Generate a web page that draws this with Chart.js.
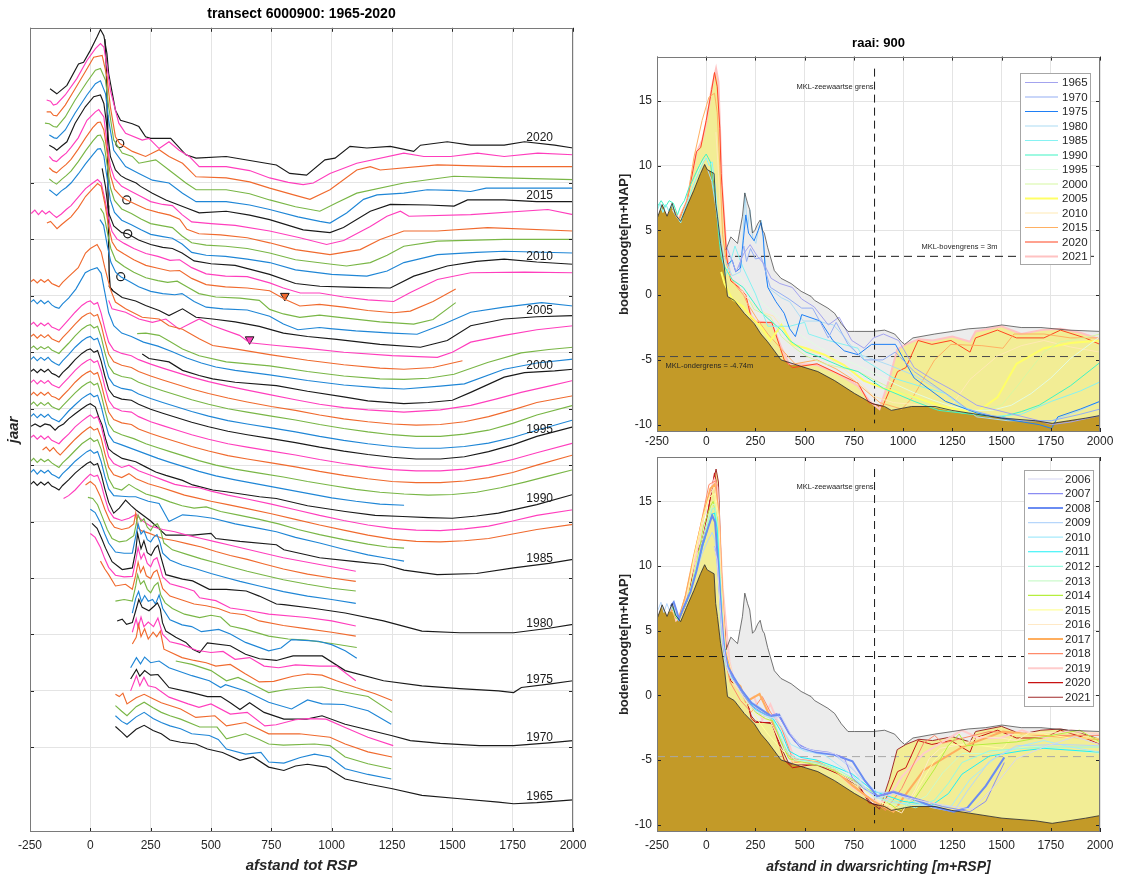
<!DOCTYPE html>
<html><head><meta charset="utf-8">
<script src="https://cdn.jsdelivr.net/npm/chart.js@4.4.0/dist/chart.umd.min.js"></script>
<style>
html,body{margin:0;padding:0;background:#fff;width:1129px;height:879px;overflow:hidden}
canvas{position:absolute}
</style></head><body>
<canvas id="cl" width="590" height="879" style="left:0;top:0"></canvas>
<canvas id="ct" width="529" height="420" style="left:600px;top:30px"></canvas>
<canvas id="cb" width="529" height="439" style="left:600px;top:440px"></canvas>
<script>
// ---------- DATA: bed profiles, pairs of [distance to RSP (m), height (m+NAP)] ----------
const p1965 = [104,3.7, 130,2.7, 152,1.8, 190,3.2, 223,3.9, 260,3.0, 294,2.4, 330,1.3, 374,0.9, 437,0.6, 485,-0.3, 548,-0.9, 620,-2.3, 675,-1.7, 739,-3.5, 802,-4.1, 850,-3.3, 900,-3.0, 977,-3.5, 1056,-5.6, 1150,-6.5, 1247,-7.3, 1374,-8.5, 1532,-9.1, 1691,-9.7, 1754,-10.0, 1850,-9.8, 2000,-9.3];
const p1966 = [104,3.6, 130,2.6, 152,2.1, 190,3.4, 223,4.2, 260,3.1, 294,2.4, 330,1.8, 374,1.3, 420,0.4, 493,0.1, 530,-0.6, 564,-2.3, 643,-3.2, 707,-2.9, 739,-4.6, 802,-4.8, 870,-3.8, 929,-3.2, 993,-3.7, 1056,-5.8, 1150,-6.8, 1247,-7.6];
const p1967 = [104,3.4, 130,2.4, 152,1.6, 190,3.2, 223,4.0, 260,3.0, 294,2.2, 330,1.6, 374,1.0, 453,-0.4, 525,-0.4, 564,-2.5, 643,-1.6, 700,-2.6, 739,-3.4, 800,-3.6, 929,-3.4, 993,-3.7, 1056,-5.7, 1150,-6.9, 1247,-7.8];
const p1968 = [104,3.4, 120,3.0, 135,3.6, 152,1.7, 190,2.8, 223,3.4, 260,2.6, 294,1.9, 374,0.8, 437,-0.7, 516,-0.4, 564,-2.2, 643,-1.6, 739,-3.6, 866,-3.6, 993,-4.2, 1056,-5.4, 1150,-6.8, 1250,-7.7];
const p1969 = [167,2.0, 191,4.7, 205,2.9, 222,4.4, 240,2.9, 270,2.6, 326,0.9, 405,-0.3, 450,-0.9, 500,-0.3, 580,-2.1, 650,-1.8, 723,-4.2, 770,-4.0, 850,-3.1, 900,-2.9, 977,-3.0, 1056,-4.5, 1150,-6.2, 1255,-7.7];
const p1970 = [167,2.1, 191,3.8, 205,2.6, 225,3.6, 250,2.8, 280,2.9, 326,0.6, 421,-0.3, 485,-1.0, 540,-1.0, 580,-2.1, 620,-3.3, 660,-2.1, 720,-3.8, 802,-5.0, 897,-5.0, 960,-4.4, 1056,-5.9, 1247,-7.9, 1326,-8.8, 1450,-9.3, 1612,-9.7, 1754,-9.7, 1900,-9.2, 2000,-8.8];
const p1971 = [167,2.1, 191,3.9, 208,2.8, 225,4.0, 250,3.0, 285,3.3, 326,2.1, 421,0.7, 493,-0.2, 540,-1.4, 560,-0.9, 643,-2.0, 739,-4.0, 834,-5.2, 900,-3.6, 961,-4.3, 1050,-4.4, 1151,-5.5, 1247,-7.9];
const p1972 = [354,1.3, 421,0.7, 500,-0.4, 564,-2.2, 612,-1.6, 680,-3.0, 739,-4.3, 818,-3.7, 897,-3.4, 960,-3.3, 1050,-4.2, 1151,-5.0, 1250,-7.8];
const p1973 = [174,2.3, 190,3.5, 200,5.8, 210,3.6, 225,5.0, 240,3.2, 260,4.4, 275,3.6, 290,4.6, 305,1.4, 330,0.9, 380,-0.1, 430,-0.6, 480,-1.0, 520,-1.6, 580,-1.3, 640,-2.9, 700,-4.4, 760,-4.3, 840,-3.4, 900,-3.0, 960,-3.2, 1020,-4.2, 1100,-5.4, 1180,-6.5, 1250,-7.7];
const p1974 = [174,2.4, 190,4.8, 198,3.2, 210,5.1, 222,3.4, 240,4.2, 262,3.4, 280,4.9, 300,2.0, 330,0.7, 380,0.2, 440,-0.8, 500,-1.2, 550,-1.0, 600,-2.4, 660,-2.1, 720,-3.6, 780,-3.9, 850,-3.4, 950,-3.6, 1020,-3.6, 1100,-6.2];
const p1975 = [111,2.4, 132,2.7, 150,1.8, 174,2.1, 188,4.2, 201,6.2, 215,4.8, 243,4.2, 264,5.0, 278,5.6, 290,4.5, 299,2.1, 313,0.6, 354,-0.5, 396,-1.4, 424,-2.6, 453,-3.2, 485,-1.5, 580,-2.0, 643,-3.5, 701,-4.3, 771,-4.6, 840,-3.8, 961,-3.8, 1056,-6.4, 1215,-8.2, 1374,-9.1, 1530,-9.6, 1691,-10.0, 1754,-10.3, 1786,-9.4, 1900,-8.8, 2000,-8.2];
const p1976 = [174,1.8, 188,4.4, 200,5.6, 212,3.8, 225,4.9, 240,3.9, 258,4.2, 270,3.4, 285,5.0, 300,2.6, 330,0.6, 380,-0.3, 420,-0.6, 460,-1.5, 532,-1.1, 580,-1.9, 643,-3.4, 739,-4.9, 790,-4.4, 834,-2.9, 945,-3.2, 1000,-3.8, 1056,-4.9, 1104,-6.2];
const p1977 = [104,1.9, 140,2.2, 174,1.9, 188,4.6, 196,6.6, 208,4.9, 222,5.5, 236,4.0, 250,3.4, 265,4.6, 280,5.2, 292,3.0, 310,1.6, 340,0.6, 390,-0.4, 453,-1.0, 500,-0.6, 540,-0.9, 580,-2.5, 643,-3.1, 739,-4.3, 820,-4.8, 897,-5.0, 1000,-5.6, 1104,-6.3];
const p1978 = [42,7.0, 60,5.6, 76,4.6, 104,2.6, 146,2.9, 174,2.0, 188,4.5, 198,6.8, 208,5.0, 220,6.0, 232,4.4, 250,3.9, 262,5.0, 276,5.4, 288,3.8, 300,2.1, 330,0.8, 380,0.1, 430,-0.6, 480,-0.9, 530,-1.4, 580,-2.2, 640,-2.5, 700,-3.6, 800,-4.4, 900,-5.0, 1000,-5.6, 1100,-6.3];
const p1979 = [0,9.9, 20,9.2, 42,7.4, 60,5.4, 76,3.9, 104,2.5, 140,2.2, 174,2.3, 188,5.1, 198,7.4, 210,5.4, 222,6.4, 236,4.6, 250,4.0, 262,5.2, 276,5.6, 288,4.0, 300,2.2, 330,1.0, 380,0.4, 430,-0.3, 453,-1.5, 520,-2.0, 580,-3.3, 660,-3.8, 739,-4.4, 897,-5.0, 1000,-5.6, 1100,-6.5];
const p1980 = [7,9.7, 28,8.8, 49,6.8, 63,5.3, 90,2.9, 132,1.5, 174,1.8, 188,4.8, 196,7.9, 210,5.2, 222,6.6, 236,4.5, 252,4.0, 268,5.3, 280,5.8, 292,3.8, 313,0.6, 382,-0.2, 424,-0.5, 493,-2.0, 563,-2.0, 646,-2.3, 700,-3.2, 771,-4.6, 802,-4.7, 930,-5.4, 1056,-6.2, 1215,-7.6, 1374,-9.4, 1532,-9.7, 1754,-9.7, 1900,-8.9, 2000,-8.2];
const p1981 = [0,10.2, 20,9.6, 42,7.8, 60,5.8, 76,4.2, 104,2.6, 140,2.4, 174,2.4, 188,5.4, 198,7.6, 210,5.8, 222,6.4, 236,4.8, 250,4.4, 262,5.2, 276,5.7, 288,4.4, 300,2.4, 330,1.2, 380,0.3, 440,-0.4, 500,-1.2, 560,-1.9, 620,-2.6, 700,-3.4, 800,-4.4, 900,-5.2, 1000,-5.8, 1100,-6.5];
const p1982 = [-10,10.3, 10,10.1, 30,9.0, 50,6.8, 70,4.6, 90,3.0, 120,2.4, 150,2.6, 180,3.5, 198,7.2, 210,6.0, 222,6.5, 236,5.0, 250,4.4, 262,5.3, 278,5.6, 290,4.6, 305,2.2, 340,1.0, 400,0.2, 460,-0.6, 520,-1.3, 580,-2.0, 650,-2.8, 720,-3.5, 800,-4.3, 900,-5.1, 1000,-5.8, 1100,-6.3];
const p1983 = [-20,10.5, 0,11.1, 20,10.4, 40,8.6, 60,6.2, 80,4.2, 100,3.0, 130,2.6, 160,2.9, 180,3.6, 188,5.5, 196,3.0, 210,2.4, 240,2.0, 270,1.5, 300,1.0, 350,0.6, 400,0.1, 460,-0.5, 520,-1.3, 580,-2.0, 650,-2.7, 720,-3.5, 800,-4.4, 900,-5.3, 1000,-6.0, 1100,-6.6];
const p1984 = [-111,6.1, -90,6.6, -63,7.6, -40,8.7, -20,9.6, 0,10.4, 15,10.0, 30,10.2, 45,8.6, 60,6.2, 76,4.0, 97,2.7, 130,2.2, 160,2.6, 190,3.3, 215,2.2, 250,1.2, 300,0.6, 350,0.2, 400,-0.4, 460,-1.0, 520,-1.6, 580,-2.2, 650,-2.9, 720,-3.6, 800,-4.4, 900,-5.2, 1000,-6.0, 1100,-6.8];
const p1985 = [-250,6.5, -235,7.1, -220,6.4, -205,7.0, -190,6.5, -175,7.0, -160,6.3, -145,6.0, -130,5.6, -115,6.4, -90,7.4, -63,8.6, -35,9.6, -14,10.3, 0,10.6, 15,10.0, 30,10.3, 45,8.4, 60,5.8, 76,3.4, 97,1.5, 120,2.4, 146,3.8, 170,2.8, 188,2.1, 250,0.1, 313,-2.4, 424,-2.4, 500,-2.1, 520,-3.0, 620,-3.5, 771,-4.1, 802,-5.0, 950,-6.4, 1100,-7.1, 1215,-7.6, 1300,-8.6, 1437,-9.4, 1600,-9.2, 1754,-8.2, 1900,-7.4, 2000,-6.7];
const p1986 = [-250,6.6, -235,7.2, -220,6.4, -205,7.1, -190,6.6, -175,7.1, -160,6.4, -145,6.1, -130,5.7, -115,6.5, -90,7.5, -63,8.7, -35,9.7, -14,10.4, 0,10.7, 15,10.1, 30,10.4, 45,8.6, 60,6.0, 76,3.8, 97,2.6, 130,2.5, 160,2.4, 188,2.4, 240,1.6, 285,1.2, 326,-2.0, 382,-0.8, 440,-1.0, 507,-1.4, 600,-2.4, 700,-3.2, 771,-3.8, 850,-4.8, 950,-5.8, 1050,-6.9, 1150,-7.9, 1230,-8.5, 1300,-9.0];
const p1987 = [-250,6.6, -235,7.2, -220,6.5, -205,7.1, -190,6.6, -175,7.0, -160,6.4, -145,6.0, -130,5.6, -115,6.4, -90,7.4, -63,8.6, -35,9.8, -14,10.4, 0,10.8, 15,10.2, 30,10.5, 45,8.8, 60,6.2, 76,3.6, 97,2.0, 130,1.6, 160,2.6, 190,1.8, 230,0.9, 280,0.3, 330,-0.5, 380,-1.2, 430,-1.6, 480,-1.4, 540,-2.2, 620,-2.9, 700,-3.6, 780,-4.4, 860,-5.4, 950,-6.3, 1050,-7.2, 1150,-8.0, 1230,-8.5, 1300,-8.7];
const p1988 = [-198,6.7, -183,7.2, -168,6.5, -153,7.1, -138,6.3, -125,5.8, -110,6.5, -90,7.4, -63,8.6, -35,9.7, -14,10.4, 0,10.8, 15,10.2, 30,10.5, 45,8.8, 60,6.1, 76,3.6, 97,2.3, 130,1.8, 160,2.5, 190,1.6, 240,0.7, 290,0.1, 340,-0.6, 390,-1.3, 440,-1.8, 500,-2.4, 570,-3.0, 650,-3.7, 750,-4.6, 850,-5.6, 950,-6.6, 1050,-7.5, 1150,-8.4, 1250,-9.1, 1350,-9.5, 1450,-9.6, 1550,-9.4, 1650,-9.0, 1750,-8.2, 1850,-7.4, 2000,-6.5];
const p1989 = [-250,6.8, -235,7.3, -220,6.6, -205,7.2, -190,6.6, -175,7.1, -160,6.4, -145,6.1, -130,5.8, -115,6.5, -90,7.5, -63,8.8, -35,9.8, -14,10.5, 0,10.9, 15,10.3, 30,10.6, 45,8.9, 60,6.2, 76,3.5, 97,2.3, 130,1.6, 160,2.0, 200,1.0, 250,0.2, 300,-0.6, 350,-1.4, 400,-1.8, 450,-2.0, 500,-2.6, 570,-3.3, 650,-4.0, 750,-4.9, 850,-5.9, 950,-6.9, 1050,-7.8, 1150,-8.6, 1250,-9.2, 1350,-9.5, 1450,-9.6, 1550,-9.3, 1650,-8.8, 1750,-7.9, 1850,-6.9, 2000,-5.9];
const p1990 = [-250,6.8, -229,7.3, -208,6.8, -188,7.3, -167,7.1, -146,6.2, -132,6.8, -111,7.3, -90,8.2, -63,9.1, -35,10.0, -14,10.6, 0,10.9, 21,10.3, 35,8.5, 49,7.1, 63,4.7, 76,2.9, 97,2.1, 132,1.2, 188,0.6, 229,-0.3, 271,-1.2, 313,-1.8, 382,-2.7, 424,-3.5, 507,-4.4, 563,-4.7, 701,-5.6, 771,-5.9, 900,-7.2, 1056,-8.2, 1180,-8.9, 1294,-9.1, 1400,-9.3, 1500,-9.4, 1600,-9.0, 1691,-8.5, 1850,-7.0, 2000,-5.2];
const p1991 = [-250,6.5, -235,7.1, -220,6.4, -205,7.0, -190,6.5, -175,7.0, -160,6.3, -145,6.0, -130,5.7, -115,6.4, -90,7.6, -63,8.7, -35,9.8, -14,10.4, 0,10.7, 15,10.1, 30,10.4, 45,8.4, 60,5.8, 76,3.4, 97,2.1, 130,1.6, 180,0.8, 230,0.0, 280,-0.8, 330,-1.5, 390,-2.3, 450,-3.1, 520,-3.9, 600,-4.6, 700,-5.4, 800,-6.2, 900,-7.0, 1000,-7.8, 1100,-8.4, 1200,-8.9, 1300,-9.1];
const p1992 = [-250,6.6, -235,7.2, -220,6.5, -205,7.1, -190,6.6, -175,7.1, -160,6.4, -145,6.1, -130,5.8, -115,6.5, -90,7.6, -63,8.8, -35,9.9, -14,10.5, 0,10.8, 15,10.2, 30,10.5, 45,8.5, 60,5.8, 76,3.3, 97,2.0, 130,1.4, 180,0.7, 230,-0.2, 280,-0.9, 330,-1.6, 390,-2.4, 450,-3.2, 520,-4.0, 600,-4.7, 700,-5.4, 800,-6.1, 900,-6.9, 1000,-7.6, 1100,-8.3, 1200,-8.8, 1300,-9.1, 1400,-9.3, 1500,-9.2, 1600,-8.8, 1700,-8.0, 1800,-7.0, 1900,-5.9, 2000,-4.8];
const p1993 = [-250,6.3, -235,6.9, -220,6.3, -205,6.9, -190,6.4, -175,6.9, -160,6.2, -145,6.0, -130,5.6, -115,6.3, -90,7.4, -63,8.7, -35,9.8, -14,10.4, 0,10.7, 15,10.1, 30,10.4, 45,8.4, 60,5.8, 76,3.4, 97,2.1, 130,1.5, 170,1.2, 200,0.4, 250,-0.4, 300,-1.1, 360,-1.9, 420,-2.7, 490,-3.5, 570,-4.3, 650,-4.9, 750,-5.6, 850,-6.3, 950,-7.1, 1050,-7.8, 1150,-8.4, 1250,-8.9, 1350,-9.1, 1450,-9.1, 1550,-8.8, 1650,-8.2, 1750,-7.3, 1850,-6.0, 2000,-4.2];
const p1994 = [-250,6.5, -235,7.1, -220,6.4, -205,7.0, -190,6.5, -175,7.0, -160,6.3, -145,6.0, -130,5.7, -115,6.4, -90,7.5, -63,8.8, -35,9.9, -14,10.5, 0,10.8, 15,10.2, 30,10.5, 45,8.6, 60,5.9, 76,3.5, 97,2.2, 130,1.6, 170,1.4, 200,0.6, 250,-0.3, 300,-1.0, 360,-1.8, 420,-2.6, 490,-3.4, 570,-4.2, 650,-4.8, 750,-5.5, 850,-6.2, 950,-7.0, 1050,-7.7, 1150,-8.3, 1250,-8.8, 1350,-9.0, 1450,-9.0, 1550,-8.7, 1650,-8.0, 1750,-7.0, 1850,-5.8, 2000,-4.1];
const p1995 = [-250,6.5, -235,7.0, -220,6.4, -205,7.0, -190,6.5, -175,7.0, -160,6.3, -145,6.0, -130,5.6, -115,6.4, -90,7.4, -63,8.7, -35,9.8, -14,10.4, 0,10.6, 15,10.0, 30,10.3, 45,8.4, 60,5.8, 76,3.4, 97,2.2, 130,1.7, 170,1.5, 200,0.8, 250,-0.1, 300,-0.8, 360,-1.6, 420,-2.4, 490,-3.2, 570,-4.0, 650,-4.6, 750,-5.3, 850,-6.0, 950,-6.8, 1050,-7.5, 1150,-8.1, 1250,-8.6, 1350,-8.9, 1450,-8.9, 1550,-8.5, 1650,-7.6, 1750,-6.4, 1850,-4.9, 2000,-3.2];
const p1996 = [-250,6.6, -235,7.2, -220,6.5, -205,7.1, -190,6.6, -175,7.1, -160,6.4, -145,6.0, -130,5.7, -115,6.5, -90,7.6, -63,8.9, -35,10.0, -14,10.6, 0,10.8, 15,10.2, 30,10.5, 45,8.6, 60,5.9, 76,3.5, 97,2.2, 130,1.6, 170,1.3, 200,0.6, 250,-0.2, 300,-0.9, 360,-1.7, 420,-2.5, 490,-3.3, 570,-4.1, 650,-4.7, 750,-5.4, 850,-6.1, 950,-6.9, 1050,-7.6, 1150,-8.2, 1250,-8.7, 1350,-9.0, 1450,-9.0, 1550,-8.7, 1650,-8.1, 1750,-7.1, 1850,-5.8, 2000,-4.0];
const p1997 = [-250,6.6, -235,7.1, -220,6.5, -205,7.0, -190,6.6, -175,7.0, -160,6.4, -145,6.1, -130,5.8, -115,6.5, -90,7.6, -63,8.9, -35,10.1, -14,10.7, 0,10.9, 15,10.3, 30,10.6, 45,8.7, 60,6.0, 76,3.6, 97,2.3, 130,1.7, 170,1.4, 200,0.7, 250,-0.1, 300,-0.8, 360,-1.6, 420,-2.4, 490,-3.2, 570,-4.0, 650,-4.6, 750,-5.3, 850,-6.0, 950,-6.8, 1050,-7.5, 1150,-8.1, 1250,-8.6, 1350,-8.9, 1450,-8.9, 1550,-8.5, 1650,-7.8, 1750,-6.6, 1850,-5.1, 2000,-3.4];
const p1998 = [-250,6.7, -235,7.2, -220,6.5, -205,7.1, -190,6.6, -175,7.1, -160,6.4, -145,6.1, -130,5.8, -115,6.6, -90,7.7, -63,9.0, -35,10.2, -14,10.8, 0,11.0, 15,10.4, 30,10.7, 45,8.8, 60,6.1, 76,3.7, 97,2.3, 130,1.7, 170,1.3, 200,0.6, 250,-0.2, 300,-0.9, 360,-1.7, 420,-2.5, 490,-3.3, 570,-4.1, 650,-4.8, 750,-5.6, 850,-6.3, 950,-7.1, 1050,-7.8, 1150,-8.3, 1250,-8.7, 1350,-8.9, 1450,-8.8, 1550,-8.3, 1650,-7.4, 1750,-6.2, 1850,-4.9, 2000,-3.7];
const p1999 = [-250,6.8, -235,7.3, -220,6.6, -205,7.2, -190,6.7, -175,7.2, -160,6.5, -145,6.2, -130,5.9, -115,6.6, -90,7.8, -63,9.1, -35,10.3, -14,10.9, 0,11.1, 15,10.5, 30,10.8, 45,8.9, 60,6.2, 76,3.8, 97,2.4, 130,1.8, 170,1.4, 200,0.7, 250,-0.1, 300,-0.8, 360,-1.6, 420,-2.4, 490,-3.2, 570,-4.0, 650,-4.7, 743,-5.5, 850,-6.4, 950,-7.2, 1050,-7.8, 1150,-8.2, 1299,-8.6, 1450,-8.2, 1576,-7.4, 1680,-6.3, 1785,-5.1, 1900,-4.0, 2000,-3.0];
const p2000 = [215,-0.3, 243,-1.1, 326,-1.7, 382,-3.2, 451,-4.1, 507,-4.7, 600,-5.3, 771,-5.9, 900,-6.9, 1050,-7.9, 1150,-8.6, 1299,-9.1, 1400,-8.9, 1500,-8.5, 1576,-7.1, 1715,-4.4, 1799,-3.6, 1924,-3.3, 2000,-3.0];
const p2001 = [-250,6.8, -235,7.3, -220,6.6, -205,7.2, -190,6.6, -175,7.1, -160,6.4, -145,6.0, -130,5.8, -115,6.6, -90,7.6, -60,9.2, -21,12.1, 0,12.6, 28,13.0, 45,12.0, 60,8.6, 76,5.0, 97,2.7, 130,1.4, 170,0.8, 220,-0.2, 280,-0.9, 340,-1.9, 400,-3.0, 460,-3.9, 520,-4.6, 600,-5.2, 743,-6.0, 900,-7.0, 1050,-7.8, 1200,-8.3, 1299,-8.5, 1450,-8.0, 1550,-7.6, 1715,-5.0, 1850,-3.9, 2000,-3.2];
const p2002 = [194,-0.7, 230,-0.6, 285,-1.0, 330,-2.1, 382,-3.4, 451,-4.6, 563,-5.7, 743,-6.4, 900,-7.4, 1050,-8.2, 1200,-8.7, 1299,-8.8, 1400,-8.6, 1507,-7.9, 1646,-5.8, 1785,-4.1, 1900,-3.5, 2000,-3.1];
const p2003 = [-250,6.4, -235,6.9, -220,6.3, -205,6.9, -190,6.4, -175,6.9, -160,6.2, -145,5.9, -130,5.6, -115,6.4, -90,7.4, -50,9.0, -20,11.6, 0,12.4, 28,13.1, 45,11.8, 60,9.0, 83,5.2, 104,2.9, 146,1.7, 215,0.2, 285,-0.1, 326,-1.3, 382,-1.9, 451,-3.6, 507,-4.8, 600,-5.4, 743,-6.4, 900,-7.4, 1050,-8.2, 1200,-8.8, 1299,-9.0, 1420,-8.7, 1542,-7.5];
const p2004 = [76,1.2, 90,-0.3, 146,-0.9, 201,-2.1, 257,-2.7, 313,-2.1, 368,-3.9, 451,-2.1, 507,-3.3, 618,-5.0, 660,-6.3, 771,-6.8, 900,-7.3, 1050,-8.0, 1250,-8.6, 1438,-8.9, 1500,-8.0, 1576,-6.2, 1715,-5.0, 1850,-4.0, 2000,-3.3];
const p2005 = [76,1.8, 93,0.9, 132,-0.3, 188,-0.9, 229,-1.7, 285,-2.6, 326,-3.5, 382,-2.3, 438,-3.8, 507,-4.1, 600,-4.6, 700,-5.4, 800,-6.6, 900,-7.2, 1021,-7.7, 1200,-8.6, 1368,-9.1, 1479,-7.9, 1576,-5.3, 1715,-4.1, 1850,-3.7, 2000,-3.5];
const p2006 = [40,11.5, 55,10.5, 70,7.0, 85,4.0, 105,2.2, 126,1.4, 160,0.6, 200,-0.4, 250,-1.2, 300,-1.6, 350,-1.8, 380,-1.6, 430,-3.0, 480,-4.0, 550,-4.3, 650,-4.5, 743,-5.6, 800,-7.0, 860,-8.0, 950,-7.6, 993,-7.8, 1100,-8.2, 1250,-8.6, 1354,-8.8, 1465,-7.0, 1576,-4.9, 1715,-4.0, 1870,-3.2, 2000,-3.8];
const p2007 = [42,11.5, 55,10.6, 70,7.4, 85,4.4, 105,2.3, 140,1.2, 180,0.2, 230,-0.8, 280,-1.3, 320,-1.6, 360,-1.4, 400,-2.4, 450,-3.6, 520,-4.2, 620,-4.4, 700,-4.8, 743,-6.4, 800,-7.2, 868,-7.8, 950,-7.4, 1050,-7.9, 1200,-8.6, 1340,-9.0, 1420,-8.2, 1514,-5.2];
const p2008 = [-180,6.9, -165,7.2, -150,6.5, -138,5.9, -120,6.6, -100,7.3, -80,8.0, -50,9.6, -20,11.6, 10,13.0, 30,13.9, 45,13.4, 60,10.4, 75,6.5, 90,3.6, 110,2.2, 140,1.4, 180,0.4, 230,-0.6, 280,-1.1, 330,-1.6, 370,-1.5, 420,-2.9, 480,-4.0, 560,-4.4, 650,-4.6, 743,-5.1, 806,-6.6, 868,-7.8, 950,-7.5, 1050,-8.0, 1150,-8.6, 1257,-9.0, 1326,-8.7, 1420,-7.0, 1514,-4.8];
const p2009 = [-245,6.6, -230,7.2, -215,6.4, -200,7.1, -185,6.5, -170,7.0, -155,6.4, -140,5.9, -120,6.5, -100,7.3, -80,8.0, -50,9.5, -20,11.0, 10,12.0, 30,12.6, 45,12.0, 60,9.2, 75,5.8, 90,3.4, 110,2.1, 140,1.3, 180,0.4, 230,-0.5, 280,-1.0, 330,-1.7, 370,-1.6, 420,-3.0, 480,-4.1, 560,-4.5, 650,-4.6, 743,-5.7, 800,-6.6, 870,-7.5, 950,-7.5, 1050,-8.2, 1150,-8.7, 1257,-9.0, 1326,-7.4, 1438,-5.1, 1576,-3.9, 1800,-3.8, 2000,-3.9];
const p2010 = [49,12.6, 63,9.3, 76,4.7, 97,2.4, 130,1.2, 155,1.0, 200,-0.1, 250,-0.9, 300,-1.4, 340,-1.6, 380,-2.4, 430,-3.8, 500,-4.3, 600,-4.6, 743,-6.2, 850,-7.8, 951,-8.3, 1100,-8.5, 1243,-8.6, 1340,-6.5, 1479,-4.7, 1600,-3.9, 1715,-3.5, 1850,-4.0, 2000,-4.4];
const p2011 = [-170,6.8, -155,6.3, -140,5.8, -120,6.6, -100,7.2, -80,8.0, -50,9.6, -20,11.4, 10,13.0, 30,14.0, 42,14.1, 56,12.8, 69,9.0, 83,5.0, 100,2.8, 130,1.4, 170,0.6, 210,-0.3, 250,-1.1, 300,-1.5, 340,-1.8, 380,-2.8, 420,-4.3, 480,-4.8, 560,-5.0, 650,-5.5, 743,-6.1, 850,-7.4, 1000,-8.2, 1146,-8.5, 1230,-7.6, 1299,-6.1, 1438,-4.7, 1600,-4.3, 1715,-4.1, 2000,-4.4];
const p2012 = [-170,6.7, -155,6.2, -140,5.8, -120,6.6, -100,7.3, -80,8.1, -50,9.8, -20,11.7, 10,13.4, 30,14.4, 42,14.5, 56,13.2, 69,9.4, 83,5.2, 100,2.9, 130,1.4, 170,0.6, 210,-0.4, 250,-1.2, 300,-1.6, 340,-1.9, 380,-3.4, 420,-4.6, 480,-5.0, 560,-5.2, 650,-5.6, 743,-6.4, 850,-7.6, 1000,-8.4, 1062,-8.7, 1160,-8.1, 1230,-6.8, 1299,-5.2, 1438,-4.3, 1715,-4.0, 2000,-4.0];
const p2013 = [-170,6.7, -155,6.1, -140,5.8, -120,6.6, -100,7.3, -80,8.2, -50,10.0, -20,12.0, 10,13.8, 30,14.7, 42,14.8, 56,13.4, 69,9.6, 83,5.4, 100,2.9, 130,1.5, 151,1.0, 190,0.2, 230,-0.6, 280,-1.2, 330,-1.7, 370,-2.4, 400,-4.2, 450,-5.0, 540,-5.2, 650,-5.7, 743,-6.6, 850,-7.8, 993,-8.7, 1118,-7.8, 1201,-6.0, 1299,-4.5, 1438,-4.5, 1646,-3.9, 2000,-4.5];
const p2014 = [-170,6.7, -155,6.0, -140,5.8, -120,6.6, -100,7.3, -80,8.3, -50,10.0, -14,13.1, 21,14.6, 35,15.0, 56,13.7, 69,9.0, 83,5.0, 100,2.8, 130,1.4, 170,0.5, 210,-0.4, 250,-1.3, 300,-1.8, 340,-2.0, 380,-3.6, 420,-4.9, 500,-5.2, 600,-5.5, 743,-6.5, 868,-7.7, 979,-8.9, 1050,-8.2, 1160,-5.7, 1229,-3.9, 1285,-3.0, 1320,-3.9, 1576,-3.6, 1896,-2.7, 2000,-3.6];
const p2015 = [-170,6.7, -150,6.2, -139,5.8, -120,6.5, -97,7.3, -63,10.6, -21,13.5, 14,15.3, 42,15.6, 56,14.1, 69,10.0, 83,4.7, 104,2.3, 126,1.3, 146,0.8, 190,0.0, 208,-0.6, 257,-1.8, 313,-3.0, 396,-4.4, 451,-5.3, 563,-5.0, 660,-5.7, 743,-6.5, 882,-8.3, 993,-8.8, 1049,-7.9, 1160,-5.0, 1243,-3.8, 1400,-3.9, 1507,-4.1, 1563,-3.0, 1715,-3.0, 1850,-3.3, 2000,-3.3];
const p2016 = [-170,6.5, -150,6.0, -139,5.9, -104,7.4, -63,10.4, -14,13.6, 21,15.6, 42,16.1, 63,13.8, 76,9.1, 97,3.8, 146,0.9, 201,-0.3, 257,-1.5, 326,-2.0, 382,-3.8, 438,-5.3, 563,-5.3, 660,-5.9, 743,-6.7, 860,-8.0, 951,-8.8, 993,-9.1, 1062,-7.3, 1132,-4.9, 1188,-4.1, 1299,-3.8, 1396,-3.2, 1500,-3.3, 1576,-3.5, 1640,-2.9, 2000,-2.9];
const p2017 = [-188,6.6, -170,6.5, -153,6.0, -139,5.9, -104,7.7, -63,10.7, -14,13.9, 21,16.0, 42,16.3, 63,14.2, 76,9.5, 97,3.6, 132,1.3, 174,0.7, 201,-0.5, 271,0.1, 326,-1.7, 396,-4.0, 438,-5.2, 563,-5.2, 660,-5.9, 743,-7.0, 850,-8.2, 951,-9.0, 1021,-7.5, 1104,-5.8, 1299,-4.0, 1507,-2.8, 1715,-3.1, 2000,-3.4];
const p2018 = [-181,6.6, -165,6.6, -153,6.0, -139,5.9, -104,7.8, -63,10.7, -21,13.7, 14,16.3, 49,16.6, 69,12.8, 83,7.5, 104,2.2, 122,1.0, 174,-0.4, 229,-1.3, 285,-0.1, 326,-1.3, 382,-2.5, 438,-4.9, 563,-5.1, 660,-5.8, 743,-6.9, 850,-8.2, 910,-8.9, 993,-7.2, 1104,-3.7, 1160,-3.1, 1201,-3.7, 1438,-2.8, 1715,-3.1, 2000,-3.1];
const p2019 = [-181,6.7, -165,6.5, -153,5.8, -139,6.0, -104,7.6, -56,10.5, -14,13.7, 21,15.8, 42,16.7, 56,16.1, 69,12.6, 83,8.4, 118,2.6, 146,0.8, 215,-0.4, 243,-0.1, 285,-1.9, 326,-0.7, 368,-2.2, 410,-3.3, 451,-5.1, 563,-5.1, 660,-5.8, 743,-7.1, 820,-7.9, 882,-8.3, 924,-8.0, 993,-6.3, 1104,-4.5, 1299,-2.7, 1382,-3.3, 1493,-3.3, 1604,-2.7, 1715,-3.3, 1854,-2.7, 2000,-3.0];
const p2020 = [-167,6.7, -139,5.8, -97,7.3, -49,11.1, -28,11.4, 0,13.5, 28,15.9, 42,17.2, 56,16.1, 69,12.9, 76,9.4, 104,2.9, 125,1.1, 174,0.5, 201,0.0, 229,-1.8, 250,-2.1, 333,-2.1, 396,-5.0, 438,-5.6, 563,-5.3, 771,-6.8, 826,-8.3, 896,-8.6, 972,-5.9, 1014,-5.6, 1076,-3.5, 1146,-3.8, 1243,-3.5, 1340,-4.4, 1368,-3.3, 1479,-2.7, 1576,-3.3, 1715,-3.3, 1799,-2.7, 1924,-3.3, 2000,-3.8];
const p2021 = [-170,6.6, -150,6.1, -139,5.9, -100,7.2, -50,11.0, -20,12.0, 0,13.3, 28,16.0, 50,17.5, 62,16.5, 72,12.0, 80,8.5, 104,3.2, 125,1.3, 174,0.4, 201,-0.2, 229,-1.6, 250,-2.0, 333,-2.2, 380,-4.0, 420,-5.3, 563,-5.4, 660,-6.0, 771,-7.0, 830,-8.2, 880,-8.8, 930,-6.5, 970,-4.2, 1014,-3.8, 1080,-3.4, 1150,-3.5, 1250,-3.2, 1340,-3.6, 1368,-2.8, 1500,-2.4, 1600,-3.0, 1700,-2.7, 1800,-2.6, 1900,-2.9, 2000,-3.4];

const years = [1965,1966,1967,1968,1969,1970,1971,1972,1973,1974,1975,1976,1977,1978,1979,1980,1981,1982,1983,1984,1985,1986,1987,1988,1989,1990,1991,1992,1993,1994,1995,1996,1997,1998,1999,2000,2001,2002,2003,2004,2005,2006,2007,2008,2009,2010,2011,2012,2013,2014,2015,2016,2017,2018,2019,2020,2021];
const profiles = [p1965,p1966,p1967,p1968,p1969,p1970,p1971,p1972,p1973,p1974,p1975,p1976,p1977,p1978,p1979,p1980,p1981,p1982,p1983,p1984,p1985,p1986,p1987,p1988,p1989,p1990,p1991,p1992,p1993,p1994,p1995,p1996,p1997,p1998,p1999,p2000,p2001,p2002,p2003,p2004,p2005,p2006,p2007,p2008,p2009,p2010,p2011,p2012,p2013,p2014,p2015,p2016,p2017,p2018,p2019,p2020,p2021];

// envelopes (lowest and highest bed level of all surveys)
const minEnvX = [-250,-224,-199,-173,-156,-130,-100,-63,-29,-8,5,40,48,57,73,90,108,142,193,244,278,312,380,482,567,652,754,847,906,940,1043,1162,1247,1332,1502,1672,1757,1842,1927,2000];
const minEnvZ = [5.9,7.0,6.1,7.1,6.2,5.7,6.8,8.1,9.4,10.1,9.7,9.4,7.1,6.1,4.0,2.4,-0.1,-0.4,-1.4,-2.2,-3.0,-3.6,-5.0,-5.5,-5.9,-6.6,-7.6,-8.4,-8.6,-8.9,-8.6,-8.6,-8.9,-9.1,-9.5,-9.7,-9.9,-9.7,-9.5,-9.3];
const maxEnvX = [100,125,159,184,196,210,221,235,247,261,274,286,295,312,346,380,431,482,533,550,618,652,686,720,754,847,906,957,992,1008,1050,1161,1250,1331,1420,1502,1600,1700,1842,2000];
const maxEnvZ = [3.5,4.5,4.0,6.1,7.9,7.1,6.6,4.8,5.0,5.5,5.8,5.0,4.8,3.7,1.9,1.3,0.9,0.3,-0.1,-0.4,-1.0,-1.4,-2.2,-2.8,-2.8,-2.8,-2.7,-3.0,-3.6,-3.8,-3.3,-3.0,-2.8,-2.6,-2.5,-2.3,-2.5,-2.5,-2.7,-2.8];

// left panel extras (values in stacked units)
const yearSpacing = 2;
const labelYears = [1965,1970,1975,1980,1985,1990,1995,2000,2005,2010,2015,2020];
const frontX = [60,66,70,72,74,76,78,82,93];
const frontV = [125.5,121,112,104,96,89,84,81.5,80.9];
const circleYears = [2018,2013,2010,2006];
const circleX = [122,151,155,126];
const triYears = [2008,2004];
const triX = [806,660];

// right panels
const topYears = [1965,1970,1975,1980,1985,1990,1995,2000,2005,2010,2015,2020,2021];
const topColors = ['#a3a3ee','#94aef4','#1f7ff5','#acdcf4','#86f2f2','#3ff4c4','#e2fbe2','#d6f7a2','#ffff66','#ffe9b4','#ffb062','#ff4420','#ffc2c2'];
const topWidths = [1,1,1,1,1,1,1,1,2,1,1,1,2];
const botYears = [2006,2007,2008,2009,2010,2011,2012,2013,2014,2015,2016,2017,2018,2019,2020,2021];
const botColors = ['#d6d6f3','#8a8cf2','#6a8cf2','#b6d6fb','#a6eafb','#1ff0f6','#96fae2','#cbfacb','#b6ee3e','#ffff9e','#ffe9c6','#ffae5e','#ff8a6a','#ffcccc','#c81212','#a02a2a'];
const botWidths = [1,1,2,1,1,1,1,1,1,1,1,2,1,2,1,1];
const mklUpper = 3, mklLower = -4.74, mklSeaward = 855;

// ---------- helpers ----------
const FONT = "'Liberation Sans', Arial, Helvetica, sans-serif";
Chart.defaults.font.family = FONT;
Chart.defaults.color = '#262626';
function prof(yr){ return profiles[years.indexOf(yr)]; }
function pts(arr, off){ const o=[]; for(let i=0;i<arr.length;i+=2) o.push({x:arr[i], y:arr[i+1]+off}); return o; }
function xy(xs, ys){ return xs.map((x,i)=>({x, y: ys[i]})); }
function valAt(arr, x){
  for(let i=0;i<arr.length-2;i+=2){
    if(x>=arr[i] && x<=arr[i+2]){ const t=(x-arr[i])/(arr[i+2]-arr[i]); return arr[i+1]+t*(arr[i+3]-arr[i+1]); }
  }
  return x<arr[0] ? arr[1] : arr[arr.length-1];
}
const plainTick = v => String(v);
const cycle = ['#1a1a1a','#1f86d6','#79b646','#f06a2e','#ff3ebd'];

const framePlugin = {
  id:'frame',
  afterDatasetsDraw(chart){
    const {ctx, chartArea:a, scales} = chart;
    ctx.save();
    ctx.strokeStyle = '#262626'; ctx.lineWidth = 1;
    ctx.beginPath();
    const L = 4;
    scales.x.ticks.forEach(t=>{ const px=Math.round(scales.x.getPixelForValue(t.value))+0.5; ctx.moveTo(px,a.bottom); ctx.lineTo(px,a.bottom-L); ctx.moveTo(px,a.top); ctx.lineTo(px,a.top+L); });
    scales.y.ticks.forEach(t=>{ const py=Math.round(scales.y.getPixelForValue(t.value))+0.5; ctx.moveTo(a.left,py); ctx.lineTo(a.left+L,py); ctx.moveTo(a.right,py); ctx.lineTo(a.right-L,py); });
    ctx.stroke();
    ctx.strokeStyle = '#7a7a7a';
    ctx.strokeRect(Math.round(a.left)+0.5, Math.round(a.top)+0.5, Math.round(a.right-a.left)-1, Math.round(a.bottom-a.top)-1);
    ctx.restore();
  }
};
const notesPlugin = {
  id:'notes',
  afterDatasetsDraw(chart, args, o){
    if(!o || !o.items) return;
    const {ctx, scales} = chart;
    ctx.save();
    o.items.forEach(it=>{
      ctx.font = (it.font || '7.5px') + ' ' + FONT;
      ctx.fillStyle = it.color || '#262626';
      ctx.textAlign = it.align || 'left';
      ctx.textBaseline = 'middle';
      ctx.fillText(it.text, scales.x.getPixelForValue(it.x), scales.y.getPixelForValue(it.y));
    });
    ctx.restore();
  }
};
const boxLegendPlugin = {
  id:'boxLegend',
  afterDraw(chart, args, o){
    if(!o || !o.items) return;
    const ctx = chart.ctx;
    ctx.save();
    ctx.fillStyle = '#ffffff';
    ctx.fillRect(o.x, o.y, o.w, o.h);
    ctx.strokeStyle = '#a6a6a6'; ctx.lineWidth = 1;
    ctx.strokeRect(o.x+0.5, o.y+0.5, o.w, o.h);
    ctx.font = '11.5px ' + FONT; ctx.textBaseline = 'middle'; ctx.textAlign = 'left';
    o.items.forEach((it,i)=>{
      const cy = o.y + o.first + i*o.rowH;
      ctx.strokeStyle = it.color; ctx.lineWidth = it.width;
      ctx.beginPath(); ctx.moveTo(o.x+o.lx0, cy); ctx.lineTo(o.x+o.lx1, cy); ctx.stroke();
      ctx.fillStyle = '#262626';
      ctx.fillText(it.label, o.x+o.tx, cy+0.5);
    });
    ctx.restore();
  }
};
const yearLabelPlugin = {
  id:'yearLabels',
  afterDatasetsDraw(chart){
    const {ctx, scales} = chart;
    ctx.save();
    ctx.font = '12px ' + FONT; ctx.fillStyle = '#1a1a1a'; ctx.textAlign='center'; ctx.textBaseline='middle';
    labelYears.forEach(yr=>{
      const v = valAt(prof(yr), 1862) + yearSpacing*(yr-1965) + 1.0;
      ctx.fillText(String(yr), scales.x.getPixelForValue(1862), scales.y.getPixelForValue(v));
    });
    ctx.restore();
  }
};

function fixX(h){ return s=>{ s.height=h; s.paddingLeft=0; s.paddingRight=0; }; }
function fixY(w){ return s=>{ s.width=w; s.paddingTop=0; s.paddingBottom=0; }; }
const gridCol = '#e4e4e4';

// ---------- LEFT PANEL ----------
const leftSets = [];
years.forEach((yr,i)=>{
  if(yr>2020) return;
  leftSets.push({data: pts(profiles[i], yearSpacing*(yr-1965)), borderColor: cycle[(yr-1965)%5], borderWidth: 1.15});
});
leftSets.push({data: xy(frontX, frontV), borderColor:'#1a1a1a', borderWidth:1.4});
leftSets.push({data: circleYears.map((yr,i)=>({x:circleX[i], y: valAt(prof(yr),circleX[i]) + yearSpacing*(yr-1965)})),
  showLine:false, pointRadius:4, pointStyle:'circle', pointBorderColor:'#1a1a1a', pointBackgroundColor:'rgba(0,0,0,0)', pointBorderWidth:1.2});
leftSets.push({data: triYears.map((yr,i)=>({x:triX[i], y: valAt(prof(yr),triX[i]) + yearSpacing*(yr-1965) + 0.6})),
  showLine:false, pointRadius:5, pointStyle:'triangle', rotation:180, pointBorderColor:'#1a1a1a',
  pointBackgroundColor: triYears.map(yr=>cycle[(yr-1965)%5]), pointBorderWidth:1});

new Chart(document.getElementById('cl'), {
  type:'line',
  data:{datasets:leftSets},
  options:{
    responsive:false, animation:false, events:[],
    layout:{padding:{left:0,right:17,top:0,bottom:0}},
    elements:{point:{radius:0}, line:{tension:0}},
    plugins:{
      legend:{display:false}, tooltip:{enabled:false},
      title:{display:true, text:'transect 6000900: 1965-2020', fullSize:false, color:'#000',
        font:{size:14, weight:'bold'}, padding:{top:6,bottom:5}}
    },
    scales:{
      x:{type:'linear', min:-250, max:2000, afterFit: fixX(47),
        ticks:{stepSize:250, padding:6, font:{size:12}, color:'#262626', maxRotation:0, includeBounds:false, callback: plainTick},
        grid:{color:gridCol, drawTicks:false}, border:{display:false},
        title:{display:true, text:'afstand tot RSP', font:{size:15, weight:'bold', style:'italic'}, color:'#262626', padding:{top:0,bottom:4}}},
      y:{type:'linear', min:-15, max:127.5, afterFit: fixY(30),
        afterBuildTicks: s=>{ s.ticks = s.ticks.filter(t=>t.value>=0 && t.value<=100); },
        ticks:{stepSize:10, display:false, includeBounds:false},
        grid:{color:gridCol, drawTicks:false}, border:{display:false},
        title:{display:true, text:'jaar', font:{size:15, weight:'bold', style:'italic'}, color:'#262626', padding:{top:5,bottom:0}}}
    }
  },
  plugins:[framePlugin, yearLabelPlugin]
});

// ---------- RIGHT PANELS ----------
function rightSets(ylist, colors, widths, lowerColor){
  const sets = [];
  const latest = prof(2021);
  sets.push({data: xy(minEnvX, minEnvZ), borderColor:'#262626', borderWidth:0.8, fill:'start', backgroundColor:'#c39a28'});
  sets.push({data: xy(maxEnvX, maxEnvZ), borderColor:'#3a3a3a', borderWidth:0.7, fill:{target:2, above:'#ececec', below:'rgba(0,0,0,0)'}});
  sets.push({data: pts(latest,0), borderColor:'rgba(0,0,0,0)', borderWidth:0, fill:{target:0, above:'#f2ed95', below:'rgba(0,0,0,0)'}});
  ylist.forEach((yr,i)=>{
    sets.push({data: pts(prof(yr),0), borderColor: colors[i], borderWidth: widths[i]});
  });
  sets.push({data:[{x:-250,y:mklUpper},{x:2000,y:mklUpper}], borderColor:'#1a1a1a', borderWidth:1, borderDash:[8,5]});
  sets.push({data:[{x:-250,y:mklLower},{x:2000,y:mklLower}], borderColor:lowerColor, borderWidth:1, borderDash:[8,5]});
  sets.push({data:[{x:mklSeaward,y:17.5},{x:mklSeaward,y:-9.9}], borderColor:'#1a1a1a', borderWidth:1, borderDash:[8,5]});
  return sets;
}
function rightOptions(extra){
  return {
    responsive:false, animation:false, events:[],
    layout:{padding:{left:0,right:29,top:extra.padTop,bottom:0}},
    elements:{point:{radius:0}, line:{tension:0}},
    plugins:Object.assign({legend:{display:false}, tooltip:{enabled:false}, filler:{drawTime:'beforeDatasetsDraw'}}, extra.plugins),
    scales:{
      x:{type:'linear', min:-250, max:2000, afterFit: fixX(extra.xh),
        ticks:{stepSize:250, padding:extra.xpad, font:{size:12}, color:'#262626', maxRotation:0, includeBounds:false, callback: plainTick},
        grid:{color:gridCol, drawTicks:false}, border:{display:false},
        title: extra.xtitle},
      y:{type:'linear', min:-10.57, max:18.43, afterFit: fixY(57),
        ticks:{stepSize:5, padding:5, font:{size:12}, color:'#262626', includeBounds:false, callback: plainTick},
        grid:{color:gridCol, drawTicks:false}, border:{display:false},
        title:{display:true, text:'bodemhoogte[m+NAP]', font:{size:13, weight:'bold'}, color:'#262626', padding:{top:17,bottom:0}}}
    }
  };
}

new Chart(document.getElementById('ct'), {
  type:'line',
  data:{datasets: rightSets(topYears, topColors, topWidths, '#4a4a4a')},
  options: rightOptions({
    padTop:0, xh:18, xpad:2, xtitle:{display:false},
    plugins:{
      title:{display:true, text:'raai: 900', fullSize:false, color:'#000', font:{size:13, weight:'bold'}, padding:{top:6,bottom:5}},
      notes:{items:[
        {text:'MKL-zeewaartse grens', x:850, y:16.1, align:'right'},
        {text:'MKL-bovengrens = 3m', x:1093, y:3.7, align:'left'},
        {text:'MKL-ondergrens = -4.74m', x:-207, y:-5.5, align:'left'}
      ]},
      boxLegend:{x:420, y:43, w:70, h:191, first:9.5, rowH:14.5, lx0:5, lx1:38, tx:42,
        items: topYears.map((yr,i)=>({label:String(yr), color:topColors[i], width:Math.max(1.2, topWidths[i])}))}
    }
  }),
  plugins:[framePlugin, notesPlugin, boxLegendPlugin]
});

new Chart(document.getElementById('cb'), {
  type:'line',
  data:{datasets: rightSets(botYears, botColors, botWidths, '#a8a8a8')},
  options: rightOptions({
    padTop:17, xh:47, xpad:6,
    xtitle:{display:true, text:'afstand in dwarsrichting [m+RSP]', font:{size:14, weight:'bold', style:'italic'}, color:'#262626', padding:{top:0,bottom:3}},
    plugins:{
      title:{display:false},
      notes:{items:[{text:'MKL-zeewaartse grens', x:850, y:16.1, align:'right'}]},
      boxLegend:{x:424, y:30, w:69, h:236, first:9, rowH:14.55, lx0:4, lx1:39, tx:41,
        items: botYears.map((yr,i)=>({label:String(yr), color:botColors[i], width:Math.max(1.2, botWidths[i])}))}
    }
  }),
  plugins:[framePlugin, notesPlugin, boxLegendPlugin]
});
</script>
</body></html>
